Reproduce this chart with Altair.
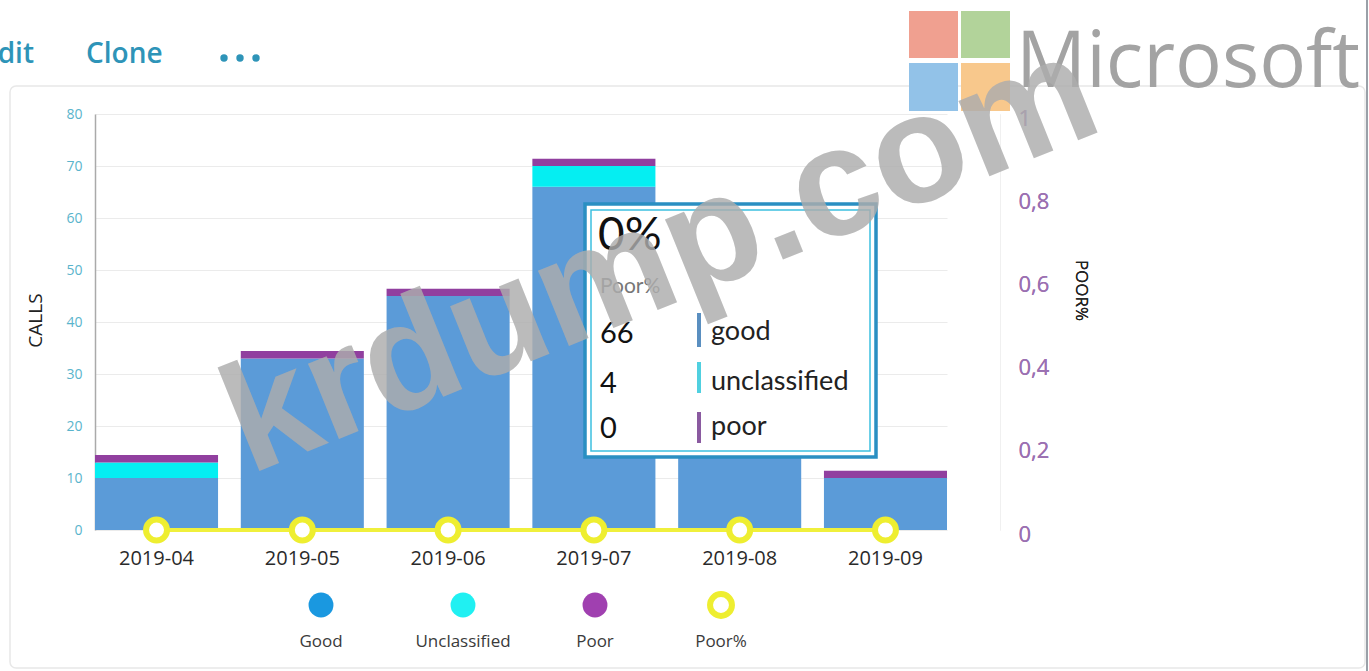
import altair as alt
import pandas as pd

# ---------------- data ----------------
months = ["2019-04", "2019-05", "2019-06", "2019-07", "2019-08", "2019-09"]
good = [10, 33, 45, 66, 44, 10]
unclassified = [3, 0, 0, 4, 0, 0]
poor = [1.4, 1.4, 1.4, 1.4, 1.4, 1.4]
poor_pct = [0, 0, 0, 0, 0, 0]

series_names = ["good", "unclassified", "poor"]
series_colors = ["#5b9bd8", "#05eef2", "#913f9f"]
left_ticks = [0, 10, 20, 30, 40, 50, 60, 70, 80]
right_ticks = [0, 0.2, 0.4, 0.6, 0.8, 1]

legend_labels = ["Good", "Unclassified", "Poor", "Poor%"]
tooltip_values = ["66", "4", "0"]
tooltip_labels = ["good", "unclassified", "poor"]

rows = []
for i, m in enumerate(months):
    for k, (name, vals) in enumerate(zip(series_names, [good, unclassified, poor])):
        rows.append({"month": m, "series": name, "value": vals[i], "ord": k})
bars_df = pd.DataFrame(rows)
line_df = pd.DataFrame({"month": months, "pct": poor_pct})
one = pd.DataFrame({"k": [0]})

W, H = 905, 416
OX, OY = 95, 114  # plot origin in page pixels

xscale = alt.Scale(domain=months, range=[0, 852], paddingInner=0.156, paddingOuter=0)
xaxis = alt.Axis(title=None, labelAngle=0, domain=False, ticks=False,
                 labelFont="Open Sans", labelFontSize=20, labelColor="#2a2a2a",
                 labelPadding=18)
xenc = alt.X("month:N", scale=xscale, sort=months, axis=xaxis)

bars = alt.Chart(bars_df).mark_bar().encode(
    x=xenc,
    y=alt.Y("value:Q", stack="zero", scale=alt.Scale(domain=[0, 80], nice=False),
            axis=alt.Axis(orient="left", values=left_ticks, title="CALLS",
                          titleFont="Open Sans", titleFontSize=19, titleFontWeight="normal",
                          titleColor="#222222", titleAngle=270, titleX=-60, titleY=206,
                          titleBaseline="middle", titleAlign="center",
                          labelFont="Open Sans", labelFontSize=14, labelColor="#5ab4cc",
                          labelPadding=13, ticks=False, domainColor="#aaaaaa",
                          domainWidth=1.5, grid=True, gridColor="#ebebeb")),
    color=alt.Color("series:N", scale=alt.Scale(domain=series_names, range=series_colors),
                    legend=None),
    order=alt.Order("ord:Q"),
)

pct_axis = alt.Axis(orient="right", values=right_ticks, title="POOR%",
                    labelExpr="datum.value == 0 ? '0' : datum.value == 1 ? '1' : replace(format(datum.value, '.1f'), '.', ',')",
                    labelFont="Open Sans", labelFontSize=22, labelColor="#9b70b2",
                    labelPadding=18, labelOffset=4, ticks=False, grid=False,
                    domainColor="#f0f0f0", titleFont="Open Sans", titleFontSize=17,
                    titleFontWeight="normal", titleColor="#222222", titleAngle=90,
                    titleX=80, titleY=176, titleAlign="center", titleBaseline="middle")

line = alt.Chart(line_df).mark_line(color="#f0f03c", strokeWidth=4).encode(
    x=xenc,
    y=alt.Y("pct:Q", scale=alt.Scale(domain=[0, 1], nice=False), axis=pct_axis),
)
pts = alt.Chart(line_df).mark_point(shape="circle", size=440, filled=True, fill="white",
                                     stroke="#eeee30", strokeWidth=6, opacity=1).encode(
    x=xenc,
    y=alt.Y("pct:Q", scale=alt.Scale(domain=[0, 1], nice=False), axis=pct_axis),
)


def txt(s, x, y, size, color="#222222", font="Open Sans", weight="normal", align="left",
        baseline="alphabetic", angle=0, opacity=1):
    return alt.Chart(one).mark_text(text=s, fontSize=size, color=color, font=font,
                                    fontWeight=weight, align=align, baseline=baseline,
                                    angle=angle, opacity=opacity).encode(
        x=alt.value(x - OX), y=alt.value(y - OY))


def box(x1, y1, x2, y2, fill, stroke=None, sw=0, radius=0, fillOpacity=1):
    kw = dict(fill=fill, fillOpacity=fillOpacity, cornerRadius=radius)
    if stroke:
        kw.update(stroke=stroke, strokeWidth=sw)
    return alt.Chart(one).mark_rect(**kw).encode(
        x=alt.value(x1 - OX), x2=alt.value(x2 - OX),
        y=alt.value(y1 - OY), y2=alt.value(y2 - OY))


layers = [bars, line, pts]

# tooltip overlay
layers.append(box(585, 204, 876, 457, "white", "#2a8fc2", 3.5))
layers.append(box(591, 210, 870, 451, "white", "#3cc0e0", 1.5, fillOpacity=0))
layers.append(txt("0%", 598, 250, 46, "#111111", font="Lato"))
layers.append(txt("Poor%", 600, 293, 21, "#777777", font="Lato"))
tip_rows = [(343, 313, 347, "#5a8fc0"), (393, 362, 393, "#50d0e0"), (438, 412, 443, "#8a5aa0")]
for (base, b1, b2, col), v, lab in zip(tip_rows, tooltip_values, tooltip_labels):
    layers.append(txt(v, 600, base, 29, "#111111", font="Lato"))
    layers.append(box(697, b1, 701, b2, col))
    layers.append(txt(lab, 711, base - 3, 27, "#222222", font="Lato"))

# bottom legend
leg_x = [321, 463, 595, 721]
leg_fill = ["#1a98e0", "#20f0f2", "#a040b0", "white"]
leg_stroke = ["#1a98e0", "#20f0f2", "#a040b0", "#eeee30"]
leg_sw = [0, 0, 0, 6]
for lx, lab, f, s, sw in zip(leg_x, legend_labels, leg_fill, leg_stroke, leg_sw):
    layers.append(alt.Chart(one).mark_point(shape="circle", size=620 if sw == 0 else 480,
                                            filled=True, fill=f, stroke=s, strokeWidth=sw,
                                            opacity=1).encode(
        x=alt.value(lx - OX), y=alt.value(605 - OY)))
    layers.append(txt(lab, lx, 647, 17, "#3a3a3a", align="center"))

# top-left toolbar text
layers.append(txt("Edit", 34, 63, 28, "#2e94b8", weight=600, align="right"))
layers.append(txt("Clone", 86, 63, 28, "#2e94b8", weight=600))
for dx in [224, 240, 256]:
    layers.append(alt.Chart(one).mark_point(shape="circle", size=55, filled=True,
                                            color="#2e94b8", opacity=1).encode(
        x=alt.value(dx - OX), y=alt.value(58 - OY)))

# frame
layers.append(box(10, 86, 1365, 668, "white", "#e8e8e8", 1.5, radius=6, fillOpacity=0))
layers.append(alt.Chart(one).mark_rule(color="#9aa0a8", strokeWidth=2).encode(
    x=alt.value(1367 - OX), y=alt.value(0 - OY), y2=alt.value(671 - OY)))

# Microsoft logo
layers.append(box(909, 11, 958, 58, "#f0a090"))
layers.append(box(961, 11, 1010, 58, "#b2d39a"))
layers.append(box(909, 63, 958, 111, "#92c2e8"))
layers.append(box(961, 63, 1010, 111, "#f8c88c"))
layers.append(txt("Microsoft", 1016, 87, 78, "#a3a3a3"))

# watermark
layers.append(txt("krdump.com", 678, 302, 154, "#adadad", font="Liberation Sans",
                  weight="bold", align="center", angle=338, opacity=0.82))

chart = alt.layer(*layers).resolve_scale(y="independent").properties(
    width=W, height=H,
    padding={"left": OX, "top": OY, "right": 1369 - OX - W, "bottom": 671 - OY - H},
    autosize=alt.AutoSizeParams(type="none"),
    background="white",
).configure_view(stroke=None)

chart.save("out.html", embed_options={"renderer": "svg", "actions": False})
